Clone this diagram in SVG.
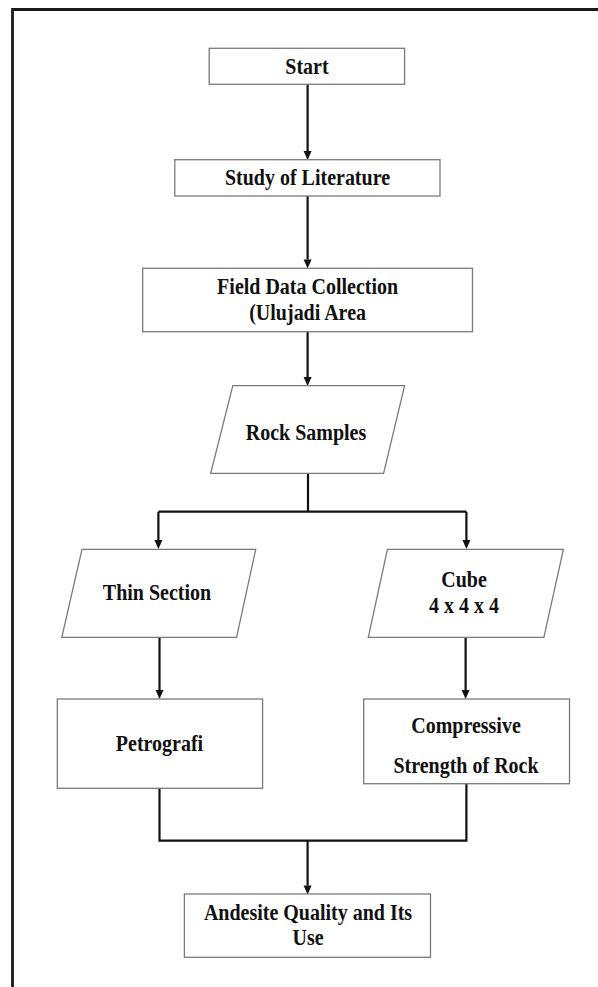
<svg xmlns="http://www.w3.org/2000/svg" width="598" height="987" viewBox="0 0 598 987">
<style>
.box{fill:#fff;stroke:#7a7a7a;stroke-width:1.3}
.t{font-family:"Liberation Serif","Times New Roman",serif;font-weight:bold;font-size:20px;fill:#111;text-anchor:middle}
.c{fill:none;stroke:#111;stroke-width:2.2}
.h{fill:#111}
</style>
<defs>
<path id="ah" d="M-4,-9 h8 l-4,9 z"/>
</defs>
<rect width="598" height="987" fill="#fff"/>
<path d="M12.5,987 V9.5 H598" fill="none" stroke="#1a1a1a" stroke-width="2.8"/>
<g id="connectors">
<path class="c" d="M307.6,84.3 V151"/>
<path class="c" d="M307.6,196 V259.5"/>
<path class="c" d="M307.6,331.7 V377"/>
<path class="c" d="M308,473.3 V511.7 M158.4,511.7 H466.4 M158.4,511.7 V540 M466.4,511.7 V540"/>
<path class="c" d="M159.5,637.3 V690 M465.6,637.3 V690"/>
<path class="c" d="M159.5,788.3 V840.7 H466.4 V783.7 M307.6,840.7 V885.5"/>
<use href="#ah" class="h" x="307.6" y="160"/>
<use href="#ah" class="h" x="307.6" y="268.5"/>
<use href="#ah" class="h" x="307.6" y="386"/>
<use href="#ah" class="h" x="158.4" y="549"/>
<use href="#ah" class="h" x="466.4" y="549"/>
<use href="#ah" class="h" x="159.5" y="699"/>
<use href="#ah" class="h" x="465.6" y="699"/>
<use href="#ah" class="h" x="307.6" y="894.5"/>
</g>
<g id="start"><rect class="box" x="209.2" y="48.3" width="195.4" height="36"/><text class="t" transform="translate(307,73.5) scale(1,1.12)">Start</text></g>
<g id="study"><rect class="box" x="174.8" y="159.7" width="265.2" height="36.3"/><text class="t" transform="translate(307.5,185) scale(1,1.12)">Study of Literature</text></g>
<g id="field"><rect class="box" x="142.7" y="268.3" width="329.8" height="63.4"/><text class="t" transform="translate(307.6,293.5) scale(1,1.12)">Field Data Collection</text><text class="t" transform="translate(307.6,319.5) scale(1,1.12)">(Ulujadi Area</text></g>
<g id="rock"><polygon class="box" points="232.8,385.7 404.6,385.7 383.6,473.3 210.7,473.3"/><text class="t" transform="translate(306,440) scale(1,1.12)">Rock Samples</text></g>
<g id="thin"><polygon class="box" points="82,549.3 255.7,549.3 236.6,637.3 61.8,637.3"/><text class="t" transform="translate(157,600) scale(1,1.12)">Thin Section</text></g>
<g id="cube"><polygon class="box" points="387.4,549.3 563.4,549.3 543.9,637.3 368.3,637.3"/><text class="t" transform="translate(464,587) scale(1,1.12)">Cube</text><text class="t" transform="translate(464,613) scale(1,1.12)">4 x 4 x 4</text></g>
<g id="petro"><rect class="box" x="57.3" y="699" width="205.3" height="89.3"/><text class="t" transform="translate(159.5,751) scale(1,1.12)">Petrografi</text></g>
<g id="comp"><rect class="box" x="363.7" y="699" width="205.8" height="84.7"/><text class="t" transform="translate(466,733) scale(1,1.12)">Compressive</text><text class="t" transform="translate(466,773) scale(1,1.12)">Strength of Rock</text></g>
<g id="andesite"><rect class="box" x="184.4" y="894" width="246.1" height="63.3"/><text class="t" transform="translate(308,919.5) scale(1,1.12)">Andesite Quality and Its</text><text class="t" transform="translate(308,945) scale(1,1.12)">Use</text></g>
</svg>
